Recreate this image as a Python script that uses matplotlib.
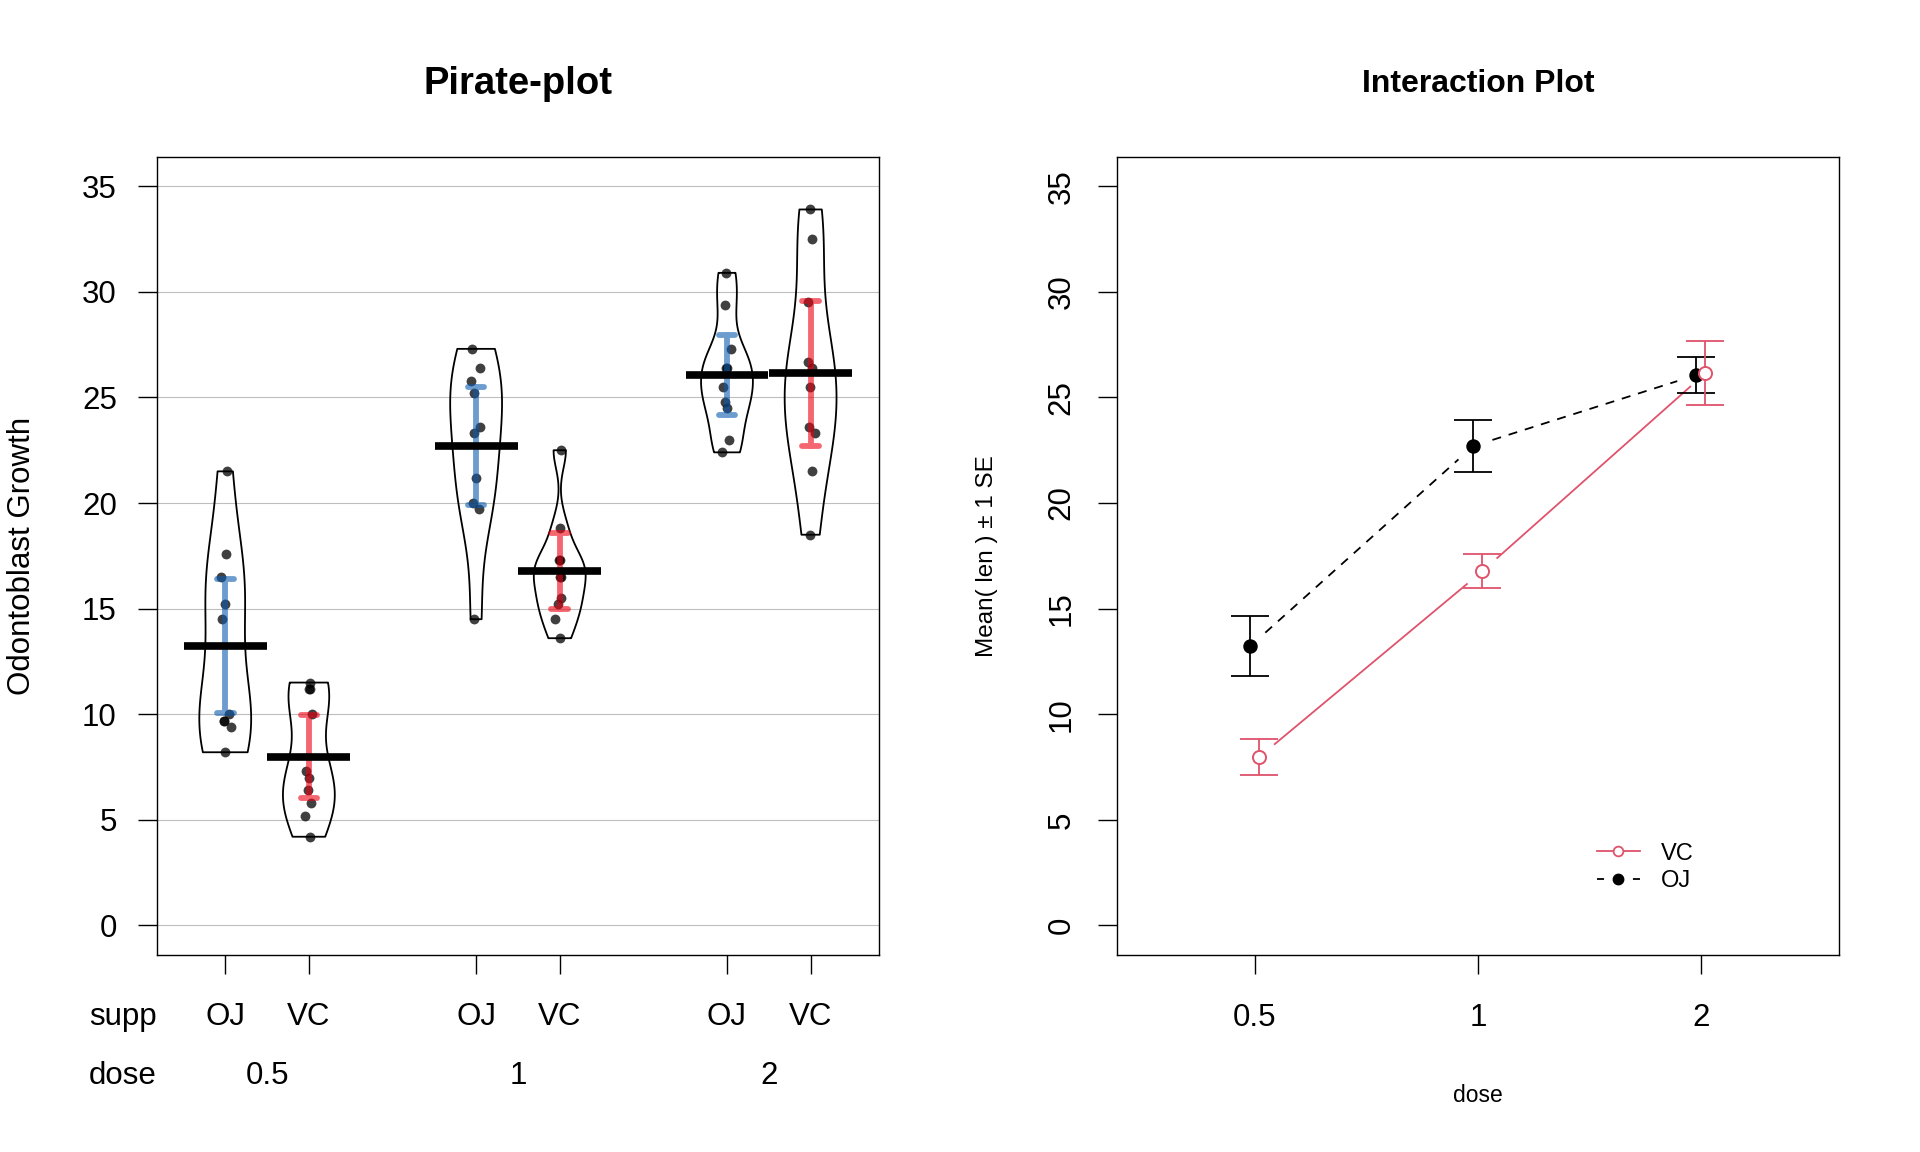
import numpy as np
import matplotlib
matplotlib.use('Agg')
import matplotlib.pyplot as plt
from matplotlib.lines import Line2D
from matplotlib.transforms import blended_transform_factory

plt.rcParams['font.family'] = ['Liberation Sans', 'DejaVu Sans']

# ToothGrowth data, read group by group
supp = ['OJ', 'VC']
doses = ['0.5', '1', '2']

oj_05 = [15.2, 21.5, 17.6, 9.7, 14.5, 10.0, 8.2, 9.4, 16.5, 9.7]
vc_05 = [4.2, 11.5, 7.3, 5.8, 6.4, 10.0, 11.2, 11.2, 5.2, 7.0]
oj_1 = [19.7, 23.3, 23.6, 26.4, 20.0, 25.2, 25.8, 21.2, 14.5, 27.3]
vc_1 = [16.5, 16.5, 15.2, 17.3, 22.5, 17.3, 13.6, 14.5, 18.8, 15.5]
oj_2 = [25.5, 26.4, 22.4, 24.5, 24.8, 30.9, 26.4, 27.3, 29.4, 23.0]
vc_2 = [23.6, 18.5, 33.9, 25.5, 26.4, 32.5, 26.7, 21.5, 23.3, 29.5]

# horizontal jitter of the raw points
jit_oj_05 = [0.0, 0.02, 0.01, -0.02, -0.04, 0.04, 0.0, 0.07, -0.05, -0.01]
jit_vc_05 = [0.016, 0.01, -0.03, 0.03, -0.016, 0.036, 0.01, 0.0, -0.045, 0.0]
jit_oj_1 = [0.04, -0.02, 0.05, 0.05, -0.035, -0.03, -0.06, 0.0, -0.024, -0.047]
jit_vc_1 = [0.0, 0.01, -0.02, -0.01, 0.01, 0.0, 0.0, -0.06, 0.0, 0.01]
jit_oj_2 = [-0.05, 0.0, -0.063, 0.0, -0.024, -0.01, -0.01, 0.043, -0.024, 0.024]
jit_vc_2 = [-0.02, -0.012, -0.012, -0.008, 0.02, 0.02, -0.03, 0.012, 0.055, -0.028]

groups = [oj_05, vc_05, oj_1, vc_1, oj_2, vc_2]
jitters = [jit_oj_05, jit_vc_05, jit_oj_1, jit_vc_1, jit_oj_2, jit_vc_2]
positions = [1, 2, 4, 5, 7, 8]
group_supp = ['OJ', 'VC'] * 3

T975 = 2.262157  # t quantile, 9 df
RED = '#DF536B'
inf_col = {'OJ': '#0C5BB0', 'VC': '#EE0011'}


def nrd0(x):
    x = np.asarray(x).ravel()
    sd = x.std(ddof=1)
    q75, q25 = np.percentile(x, [75, 25])
    return 0.9 * min(sd, (q75 - q25) / 1.34) * len(x) ** -0.2


def bw_factor(kde):
    d = kde.dataset.ravel()
    return nrd0(d) / d.std(ddof=1)


fig = plt.figure(figsize=(19.2, 11.52), dpi=100)
ax1 = fig.add_axes([0.0816, 0.171, 0.3763, 0.693])
ax2 = fig.add_axes([0.5816, 0.171, 0.3762, 0.693])

# ---------------- pirate plot ----------------
ax1.set_xlim(0.18, 8.82)
ax1.set_ylim(-1.4, 36.4)
for y in range(0, 36, 5):
    ax1.axhline(y, color='#BEBEBE', lw=0.8, zorder=1)

parts = ax1.violinplot(groups, positions, widths=0.62, showextrema=False,
                       points=200, bw_method=bw_factor)
for b in parts['bodies']:
    b.set_facecolor('none')
    b.set_edgecolor('black')
    b.set_alpha(1)
    b.set_linewidth(1.3)
    b.set_zorder(2)

for vals, jit, pos, s in zip(groups, jitters, positions, group_supp):
    vals = np.array(vals)
    ax1.scatter(pos + np.array(jit), vals, s=50, color='black', alpha=0.75,
                linewidths=0, zorder=3)
    m = vals.mean()
    half = T975 * vals.std(ddof=1) / np.sqrt(len(vals))
    lo, hi = m - half, m + half
    ax1.plot([pos - 0.1, pos + 0.1, np.nan, pos, pos, np.nan, pos - 0.1, pos + 0.1],
             [hi, hi, np.nan, hi, lo, np.nan, lo, lo],
             color=inf_col[s], alpha=0.6, lw=4.2, solid_capstyle='round', zorder=4)
    ax1.plot([pos - 0.495, pos + 0.495], [m, m], color='black', lw=5.5,
             solid_capstyle='butt', zorder=5)

ax1.set_yticks(range(0, 36, 5))
ax1.set_xticks(positions)
ax1.set_xticklabels([''] * len(positions))
ax1.tick_params(axis='both', length=13.7, width=1, labelsize=22.5, pad=15)

bt = blended_transform_factory(ax1.transData, ax1.transAxes)
for pos, s in zip(positions, group_supp):
    ax1.text(pos, -0.0773, s, transform=bt, ha='center', va='center', fontsize=22.5)
for i, d in enumerate(doses):
    ax1.text((positions[2 * i] + positions[2 * i + 1]) / 2, -0.151, d, transform=bt,
             ha='center', va='center', fontsize=22.5)
ax1.text(0.0, -0.0773, 'supp', transform=ax1.transAxes, ha='right', va='center',
         fontsize=22.5)
ax1.text(0.0, -0.151, 'dose', transform=ax1.transAxes, ha='right', va='center',
         fontsize=22.5)
ax1.text(-0.187, 0.5, 'Odontoblast Growth', transform=ax1.transAxes, rotation=90,
         ha='center', va='center', fontsize=22.5)

# ---------------- interaction plot ----------------
ax2.set_xlim(0.38, 3.62)
ax2.set_ylim(-1.4, 36.4)

oj_groups = [oj_05, oj_1, oj_2]
vc_groups = [vc_05, vc_1, vc_2]
oj_mean = np.array([np.mean(g) for g in oj_groups])
vc_mean = np.array([np.mean(g) for g in vc_groups])
oj_se = np.array([np.std(g, ddof=1) / np.sqrt(len(g)) for g in oj_groups])
vc_se = np.array([np.std(g, ddof=1) / np.sqrt(len(g)) for g in vc_groups])
xx = np.arange(1, len(doses) + 1)
x_oj = xx - 0.02
x_vc = xx + 0.02


def gapped(ax, xs, ys, gap=20):
    # line pieces between points, cut short near each point (R type = "b")
    pts = ax.transData.transform(np.column_stack([xs, ys]))
    inv = ax.transData.inverted()
    out_x, out_y = [], []
    for p0, p1 in zip(pts[:-1], pts[1:]):
        d = p1 - p0
        u = d / np.hypot(*d)
        a, b = inv.transform(np.array([p0 + u * gap, p1 - u * gap]))
        out_x += [a[0], b[0], np.nan]
        out_y += [a[1], b[1], np.nan]
    return out_x, out_y


gx, gy = gapped(ax2, x_oj, oj_mean)
ax2.plot(gx, gy, color='black', lw=1.3, ls=(0, (5, 4.4)), zorder=2)
gx, gy = gapped(ax2, x_vc, vc_mean)
ax2.plot(gx, gy, color=RED, lw=1.3, zorder=2)

ax2.errorbar(x_oj, oj_mean, yerr=oj_se, fmt='none', ecolor='black', elinewidth=1.3,
             capsize=14, capthick=1.3, zorder=3)
ax2.plot(x_oj, oj_mean, 'o', color='black', ms=9.4, zorder=4)
ax2.errorbar(x_vc, vc_mean, yerr=vc_se, fmt='none', ecolor=RED, elinewidth=1.3,
             capsize=14, capthick=1.3, zorder=5)
ax2.plot(x_vc, vc_mean, 'o', mfc='white', mec=RED, mew=1.4, ms=9.4, zorder=6)

ax2.set_yticks(range(0, 36, 5))
ax2.set_xticks(xx)
ax2.set_xticklabels(doses)
ax2.tick_params(axis='both', length=13.7, width=1, labelsize=22.5)
ax2.tick_params(axis='x', pad=20.5)
ax2.tick_params(axis='y', pad=15, labelrotation=90)
for lab in ax2.get_yticklabels():
    lab.set_va('center')

ax2.text(-0.1796, 0.5, 'Mean( len ) \u00b1 1 SE', transform=ax2.transAxes, rotation=90,
         ha='center', va='center', fontsize=17.5)
ax2.text(0.5, -0.176, 'dose', transform=ax2.transAxes, ha='center', va='center',
         fontsize=16.5)

h_vc = Line2D([], [], color=RED, lw=1.3, marker='o', ms=7, mfc='white', mec=RED, mew=1.3)
h_oj = Line2D([], [], color='black', lw=1.3, ls=(0, (3.9, 16)), marker='o', ms=7.5,
              mfc='black', mec='black')
ax2.legend([h_vc, h_oj], ['VC', 'OJ'], loc='center left', bbox_to_anchor=(0.665, 0.11),
           frameon=False, fontsize=17, handlelength=1.82, handletextpad=0.88,
           labelspacing=0.22, borderpad=0, borderaxespad=0)

for ax in (ax1, ax2):
    for sp in ax.spines.values():
        sp.set_linewidth(1)

fig.text(0.2698, 0.9275, 'Pirate-plot', ha='center', va='center', fontsize=27.5,
         fontweight='bold')
fig.text(0.7697, 0.9275, 'Interaction Plot', ha='center', va='center', fontsize=23,
         fontweight='bold')

fig.savefig('out.png', dpi=100)
